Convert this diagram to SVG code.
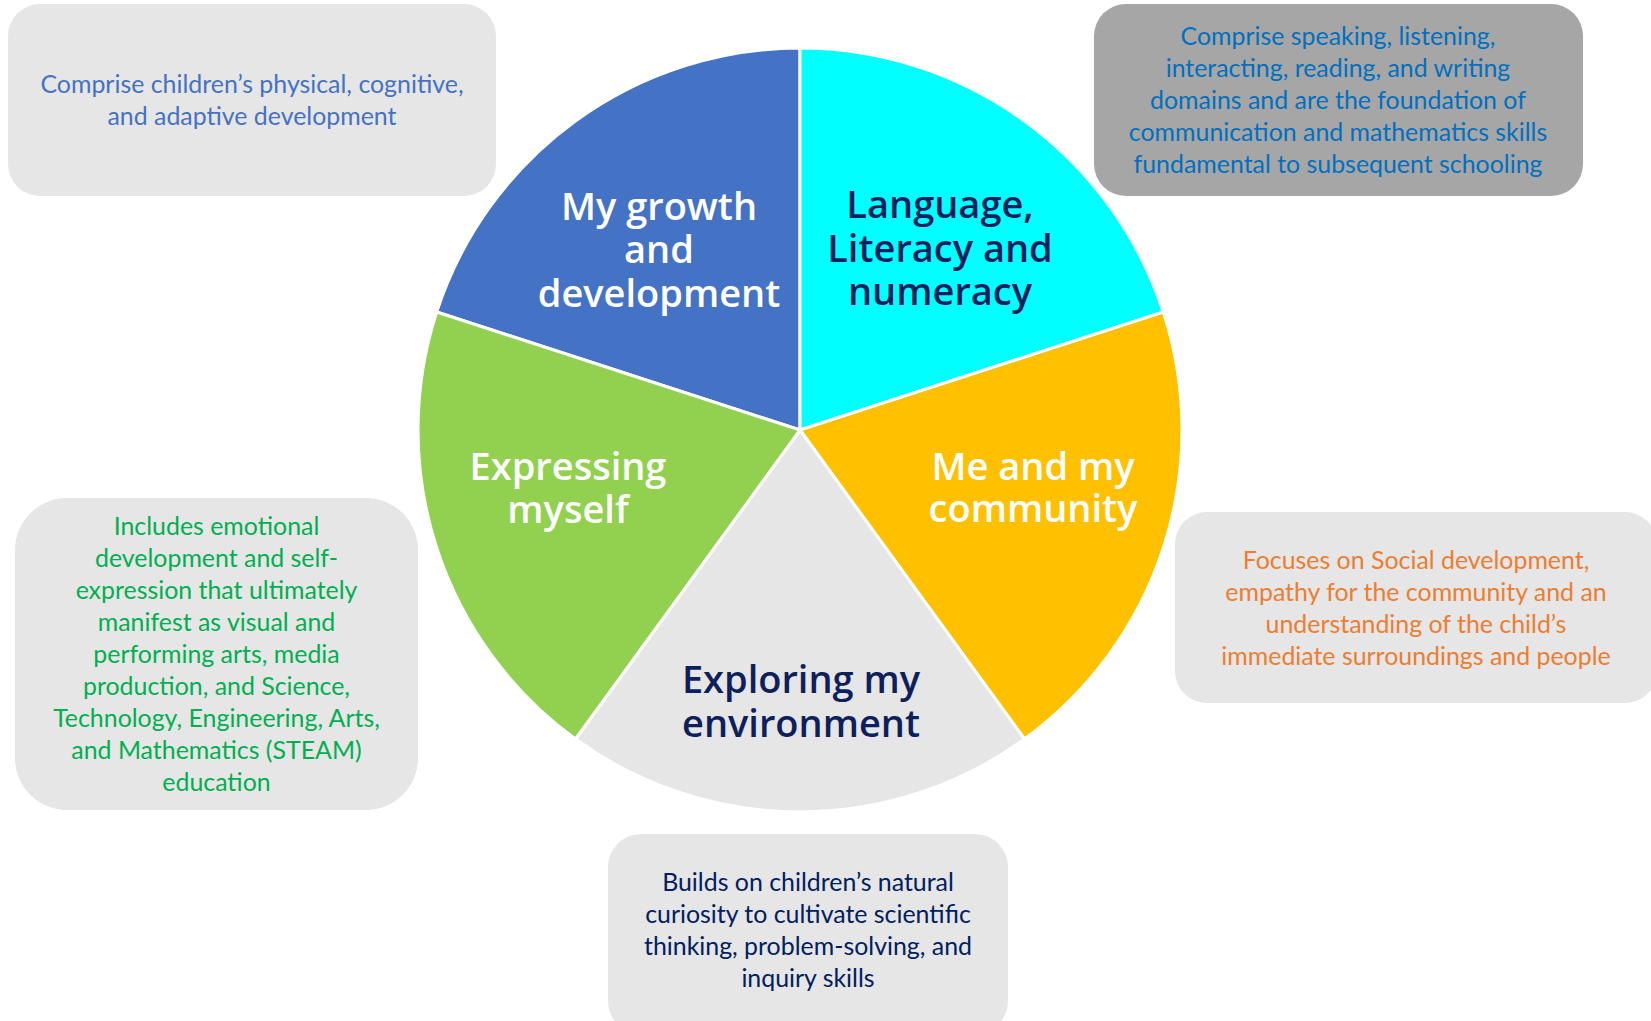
<svg xmlns="http://www.w3.org/2000/svg" width="1651" height="1021" viewBox="0 0 1651 1021">
  <style>
    .slice { stroke: #ffffff; stroke-width: 3; stroke-linejoin: round; }
    .title { font-family: "Open Sans", "Liberation Sans", sans-serif; font-weight: 600; font-size: 38px; text-anchor: middle; }
    .light { fill: #ffffff; }
    .navy { fill: #0d1f5c; }
    .box { fill: #e6e6e6; }
    .desc { font-family: Lato, "Open Sans", sans-serif; font-size: 24.9px; text-anchor: middle; }
  </style>

  <rect width="1651" height="1021" fill="#ffffff"/>

  <!-- Pie: five equal domains around centre (800,430), r = 382 -->
  <g id="domain-growth">
    <path class="slice" fill="#4472c4" d="M800,430 L436.7,312 A382,382 0 0 1 800,48 Z"/>
    <text class="title light"><tspan x="659" y="220">My growth</tspan><tspan x="659" y="263">and</tspan><tspan x="659" y="307">development</tspan></text>
  </g>
  <g id="domain-language">
    <path class="slice" fill="#00ffff" d="M800,430 L800,48 A382,382 0 0 1 1163.3,312 Z"/>
    <text class="title navy"><tspan x="940" y="218">Language,</tspan><tspan x="940" y="262">Literacy and</tspan><tspan x="940" y="305">numeracy</tspan></text>
  </g>
  <g id="domain-community">
    <path class="slice" fill="#ffc000" d="M800,430 L1163.3,312 A382,382 0 0 1 1024.5,739 Z"/>
    <text class="title light"><tspan x="1033" y="480">Me and my</tspan><tspan x="1033" y="522">community</tspan></text>
  </g>
  <g id="domain-environment">
    <path class="slice" fill="#e6e6e6" d="M800,430 L1024.5,739 A382,382 0 0 1 575.5,739 Z"/>
    <text class="title navy"><tspan x="801" y="693">Exploring my</tspan><tspan x="801" y="737">environment</tspan></text>
  </g>
  <g id="domain-expressing">
    <path class="slice" fill="#92d050" d="M800,430 L575.5,739 A382,382 0 0 1 436.7,312 Z"/>
    <text class="title light"><tspan x="568" y="480">Expressing</tspan><tspan x="568" y="523">myself</tspan></text>
  </g>

  <!-- Description call-outs -->
  <g id="note-growth">
    <rect class="box" x="8" y="4" width="488" height="192" rx="32" ry="32"/>
    <text class="desc" fill="#4472c4"><tspan x="252" y="93">Comprise children’s physical, cognitive,</tspan><tspan x="252" y="125">and adaptive development</tspan></text>
  </g>
  <g id="note-language">
    <rect x="1094" y="4" width="489" height="192" rx="32" ry="32" fill="#a6a6a6"/>
    <text class="desc" fill="#0070c0"><tspan x="1338" y="45">Comprise speaking, listening,</tspan><tspan x="1338" y="77">interacting, reading, and writing</tspan><tspan x="1338" y="109">domains and are the foundation of</tspan><tspan x="1338" y="141">communication and mathematics skills</tspan><tspan x="1338" y="173">fundamental to subsequent schooling</tspan></text>
  </g>
  <g id="note-expressing">
    <rect class="box" x="15" y="498" width="403" height="312" rx="52" ry="52"/>
    <text class="desc" fill="#00b050"><tspan x="216.5" y="535">Includes emotional</tspan><tspan x="216.5" y="567">development and self-</tspan><tspan x="216.5" y="599">expression that ultimately</tspan><tspan x="216.5" y="631">manifest as visual and</tspan><tspan x="216.5" y="663">performing arts, media</tspan><tspan x="216.5" y="695">production, and Science,</tspan><tspan x="216.5" y="727">Technology, Engineering, Arts,</tspan><tspan x="216.5" y="759">and Mathematics (STEAM)</tspan><tspan x="216.5" y="791">education</tspan></text>
  </g>
  <g id="note-community">
    <rect class="box" x="1175" y="512" width="482" height="191" rx="32" ry="32"/>
    <text class="desc" fill="#ed7d31"><tspan x="1416" y="569">Focuses on Social development,</tspan><tspan x="1416" y="601">empathy for the community and an</tspan><tspan x="1416" y="633">understanding of the child’s</tspan><tspan x="1416" y="665">immediate surroundings and people</tspan></text>
  </g>
  <g id="note-environment">
    <rect class="box" x="608" y="834" width="400" height="200" rx="33" ry="33"/>
    <text class="desc" fill="#002060"><tspan x="808" y="891">Builds on children’s natural</tspan><tspan x="808" y="923">curiosity to cultivate scientific</tspan><tspan x="808" y="955">thinking, problem-solving, and</tspan><tspan x="808" y="987">inquiry skills</tspan></text>
  </g>
</svg>
